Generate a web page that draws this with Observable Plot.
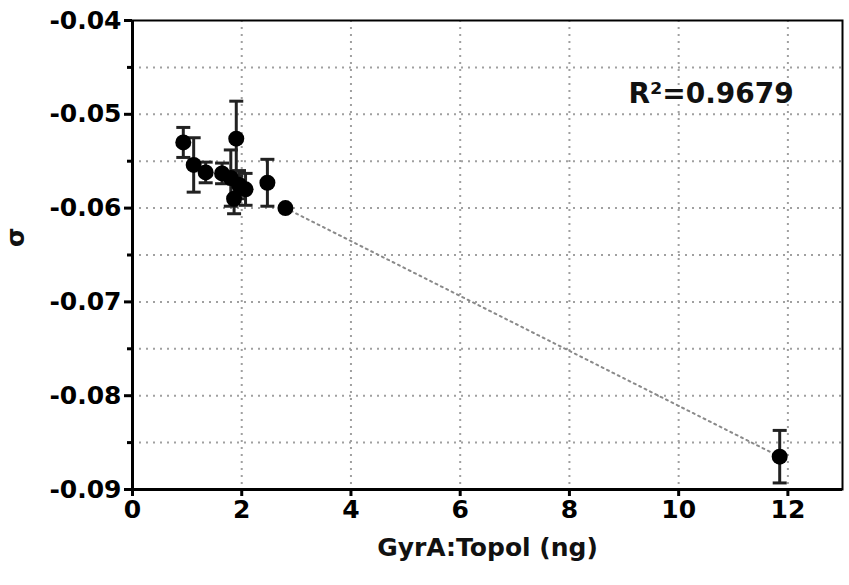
<!DOCTYPE html>
<html>
<head>
<meta charset="utf-8">
<script src="https://cdn.jsdelivr.net/npm/d3@7"></script>
<script src="https://cdn.jsdelivr.net/npm/@observablehq/plot@0.6"></script>
<style>
  html, body { margin: 0; padding: 0; background: #fff; }
  #chart svg { display: block; }
</style>
</head>
<body>
<div id="chart"></div>
<script>
// Data
const ratio = [0.93, 1.12, 1.34, 1.64, 1.80, 1.90, 1.86, 1.95, 2.07, 2.47, 2.80, 11.85];
const sigma = [-0.0530, -0.0554, -0.0562, -0.0563, -0.0568, -0.0526, -0.0590, -0.0575, -0.0580, -0.0573, -0.0600, -0.0865];
const sem   = [0.0016, 0.0029, 0.0011, 0.0011, 0.0030, 0.0040, 0.0016, 0.0015, 0.0017, 0.0025, 0, 0.0028];

const fitX = [2.80, 11.85];
const fitY = [-0.0600, -0.0865];

const xTicks = [0, 2, 4, 6, 8, 10, 12];
const xGrid = [2, 4, 6, 8, 10, 12];
const yTicks = [-0.09, -0.08, -0.07, -0.06, -0.05, -0.04];
const yMinor = [-0.085, -0.075, -0.065, -0.055, -0.045];
const yGrid = [-0.085, -0.08, -0.075, -0.07, -0.065, -0.06, -0.055, -0.05, -0.045];

const xLabel = "GyrA:Topol (ng)";
const yLabel = "σ";
const r2Text = "R²=0.9679";
const r2Pos = {x: 9.08, y: -0.0478};

const points = ratio.map((x, i) => ({x, y: sigma[i], e: sem[i]}));
const bars = points.filter(d => d.e > 0);
const fit = fitX.map((x, i) => ({x, y: fitY[i]}));

const capSymbol = {
  draw(context, size) {
    const w = Math.sqrt(size / Math.PI);
    context.moveTo(-w, 0);
    context.lineTo(w, 0);
  }
};

const FONT = "DejaVu Sans";

const chart = Plot.plot({
  width: 849,
  height: 585,
  marginLeft: 132,
  marginRight: 7,
  marginTop: 20,
  marginBottom: 96,
  style: {fontFamily: FONT, background: "#fff", color: "#000"},
  x: {domain: [0, 13]},
  y: {domain: [-0.09, -0.04]},
  marks: [
    Plot.gridY(yGrid, {stroke: "#a0a0a0", strokeOpacity: 1, strokeWidth: 2, strokeDasharray: "2,5"}),
    Plot.gridX(xGrid, {stroke: "#a0a0a0", strokeOpacity: 1, strokeWidth: 2, strokeDasharray: "2,5"}),
    Plot.frame({stroke: "#000", strokeWidth: 2}),
    Plot.ruleX([0], {stroke: "#000", strokeWidth: 3}),
    Plot.ruleY([-0.09], {stroke: "#000", strokeWidth: 3}),
    Plot.axisY(yTicks, {
      tickSize: 8, tickPadding: 3, strokeWidth: 3,
      tickFormat: d => d.toFixed(2),
      fontSize: 25, fontWeight: "bold", label: null
    }),
    Plot.axisY(yMinor, {tickSize: 5, strokeWidth: 3, tickFormat: () => "", label: null}),
    Plot.axisX(xTicks, {
      tickSize: 7, tickPadding: 4, strokeWidth: 3,
      tickFormat: d => String(d),
      fontSize: 25, fontWeight: "bold", label: null
    }),
    Plot.line(fit, {x: "x", y: "y", stroke: "#8a8a8a", strokeWidth: 2, strokeDasharray: "2,4"}),
    Plot.ruleX(bars, {x: "x", y1: d => d.y - d.e, y2: d => d.y + d.e, stroke: "#222", strokeWidth: 3}),
    Plot.dot(bars, {x: "x", y: d => d.y + d.e, symbol: capSymbol, r: 7, stroke: "#222", strokeWidth: 3, fill: "none"}),
    Plot.dot(bars, {x: "x", y: d => d.y - d.e, symbol: capSymbol, r: 7, stroke: "#222", strokeWidth: 3, fill: "none"}),
    Plot.dot(points, {x: "x", y: "y", r: 8, fill: "#000", stroke: "none"}),
    Plot.text([r2Text], {x: () => r2Pos.x, y: () => r2Pos.y, text: d => d, textAnchor: "start", fontSize: 28, fontWeight: "bold", fill: "#111"}),
    Plot.text([xLabel], {frameAnchor: "bottom", dy: 66, text: d => d, fontSize: 25, fontWeight: "bold", fill: "#111"}),
    Plot.text([yLabel], {frameAnchor: "left", dx: -117, dy: -8, rotate: -90, text: d => d, fontSize: 25, fontWeight: "bold", fill: "#111"})
  ]
});

document.getElementById("chart").appendChild(chart);
</script>
</body>
</html>
